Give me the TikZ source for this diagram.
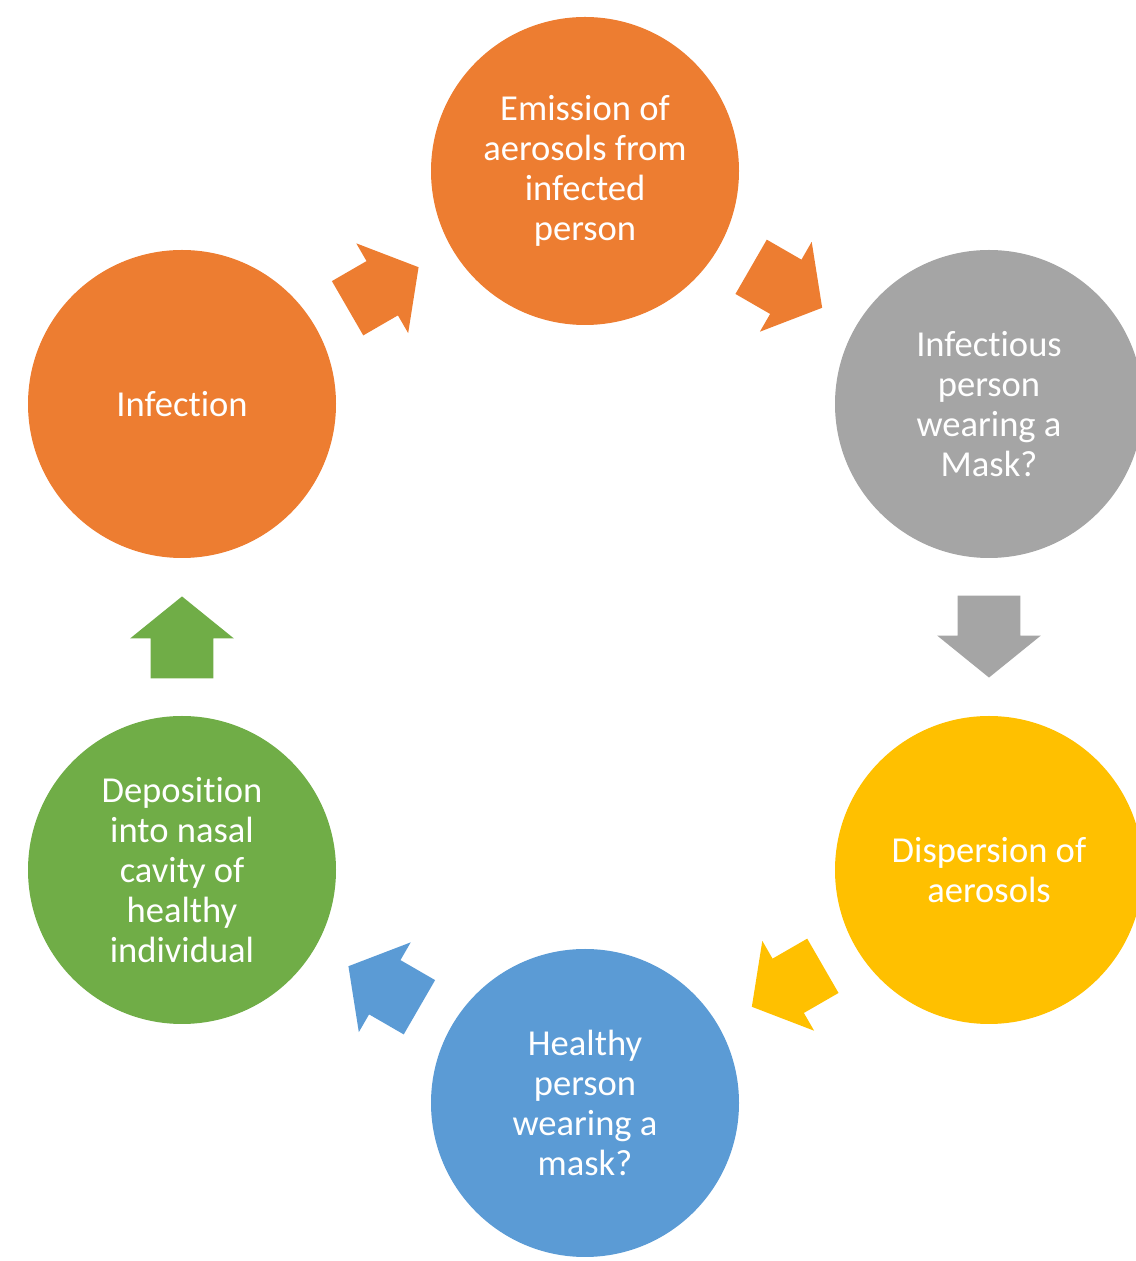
\documentclass[tikz,border=0pt]{standalone}
\usepackage{fontspec}
\setmainfont{Carlito}[Ligatures=NoCommon]
\usetikzlibrary{shapes.arrows}
\definecolor{cycorange}{HTML}{ED7D31}
\definecolor{cycgray}{HTML}{A5A5A5}
\definecolor{cycgold}{HTML}{FFC000}
\definecolor{cycblue}{HTML}{5B9BD5}
\definecolor{cycgreen}{HTML}{70AD47}
\tikzset{
  stagenode/.style={circle, draw=none, minimum size=6.16cm, inner sep=0pt, align=center,
    text=white, font=\fontsize{20.8}{22.8}\selectfont},
  cyclearrow/.style={single arrow, draw=none, minimum height=1.64cm, inner xsep=0pt,
    inner ysep=0.62cm, single arrow head extend=0.41cm, single arrow tip angle=102,
    pos=0.588, anchor=tip, sloped, allow upside down}
}

\begin{document}
\begin{tikzpicture}
  \useasboundingbox (0,0) rectangle (22.72,25.22);
  \clip (0,0) rectangle (22.72,25.22);

  % the six stages of the cycle
  \node[stagenode, fill=cycorange] (emis) at (11.70,21.80) {Emission of\\aerosols from\\infected\\person};
  \node[stagenode, fill=cycgray]   (infmask) at (19.78,17.14) {Infectious\\person\\wearing a\\Mask?};
  \node[stagenode, fill=cycgold]   (disp) at (19.78,7.82) {Dispersion of\\aerosols};
  \node[stagenode, fill=cycblue]   (hlthmask) at (11.70,3.16) {Healthy\\person\\wearing a\\mask?};
  \node[stagenode, fill=cycgreen]  (depo) at (3.64,7.82) {Deposition\\into nasal\\cavity of\\healthy\\individual};
  \node[stagenode, fill=cycorange] (inf) at (3.64,17.14) {Infection};

  % block arrows between the stages, tip just past the midpoint
  \path (emis.center) -- (infmask.center) node[cyclearrow, fill=cycorange] (a1) {};
  \path (infmask.center) -- (disp.center) node[cyclearrow, fill=cycgray] (a2) {};
  \path (disp.center) -- (hlthmask.center) node[cyclearrow, fill=cycgold] (a3) {};
  \path (hlthmask.center) -- (depo.center) node[cyclearrow, fill=cycblue] (a4) {};
  \path (depo.center) -- (inf.center) node[cyclearrow, fill=cycgreen] (a5) {};
  \path (inf.center) -- (emis.center) node[cyclearrow, fill=cycorange] (a6) {};
\end{tikzpicture}
\end{document}
